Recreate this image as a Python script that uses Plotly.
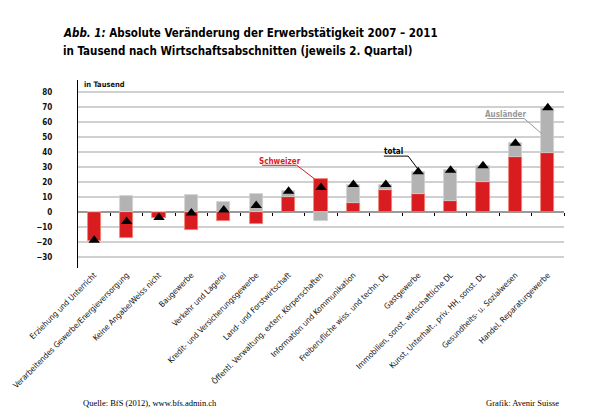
import plotly.graph_objects as go

categories = [
    "Erziehung und Unterricht",
    "Verarbeitendes Gewerbe/Energieversorgung",
    "Keine Angabe/Weiss nicht",
    "Baugewerbe",
    "Verkehr und Lagerei",
    "Kredit- und Versicherungsgewerbe",
    "Land- und Forstwirtschaft",
    "Öffentl. Verwaltung, exterr. Körperschaften",
    "Information und Kommunikation",
    "Freiberufliche wiss. und techn. DL",
    "Gastgewerbe",
    "Immobilien, sonst. wirtschaftliche DL",
    "Kunst, Unterhalt., priv. HH, sonst. DL",
    "Gesundheits- u. Sozialwesen",
    "Handel, Reparaturgewerbe",
]
schweizer = [-19, -17, -3.5, -12, -5.5, -8, 10, 22, 6, 15, 12, 7.5, 20.5, 37, 39.5]
auslaender = [0.5, 11, 0, 11.5, 7, 12.5, 4, -5.5, 12.5, 3.5, 15, 20.5, 10.5, 9, 30]
total = [-18.5, -6, -3.5, -0.5, 1.5, 4.5, 14, 16.5, 18.5, 18.5, 27, 28, 31, 46, 69.5]
y_ticks = [-30, -20, -10, 0, 10, 20, 30, 40, 50, 60, 70, 80]

RED = "#d91c1f"
GRAY = "#b3b3b3"
FONT = "DejaVu Sans Condensed, sans-serif"
idx = list(range(len(categories)))

# plot area in pixels
L, R, T, B = 72, 564, 80, 268
def px(x):
    return (x - L) / (R - L)
def py(y):
    return (B - y) / (B - T)

fig = go.Figure()
fig.add_trace(go.Bar(x=idx, y=schweizer, marker=dict(color=RED, line=dict(color="#f08070", width=0.8)),
                     width=0.41, name="Schweizer"))
fig.add_trace(go.Bar(x=idx, y=auslaender, marker=dict(color=GRAY, line=dict(color="#d0d0d0", width=0.8)),
                     width=0.41, name="Ausländer"))
fig.add_trace(go.Scatter(x=idx, y=total, mode="markers", name="total",
                         marker=dict(symbol="triangle-up", color="black", size=10)))
# invisible trace for the tick axis at zero
fig.add_trace(go.Scatter(x=[i + 0.5 for i in idx], y=[0] * len(idx), mode="markers",
                         marker=dict(opacity=0), xaxis="x2", hoverinfo="skip", showlegend=False))

fig.update_layout(
    width=600, height=420,
    margin=dict(l=L, r=600 - R, t=T, b=420 - B),
    paper_bgcolor="white", plot_bgcolor="white",
    barmode="relative", bargap=0, showlegend=False,
    font=dict(family=FONT, color="#222"),
    xaxis=dict(
        range=[-0.5, len(categories) - 0.5], tickmode="array", tickvals=idx, ticktext=categories,
        tickangle=-45, showgrid=False, zeroline=False, showline=False, ticks="",
        tickfont=dict(size=8, color="#111"),
    ),
    xaxis2=dict(
        range=[-0.5, len(categories) - 0.5], overlaying="x", anchor="free",
        position=py(212), side="bottom", showgrid=False, zeroline=False, showline=False,
        showticklabels=False, ticks="outside", ticklen=3, tickcolor="black", tickwidth=1.2,
        tickmode="array", tickvals=[i + 0.5 for i in idx],
    ),
    yaxis=dict(
        range=[-37, 88], tickmode="array", tickvals=y_ticks,
        showgrid=True, gridcolor="#d0d0d0", gridwidth=1.5,
        zeroline=True, zerolinecolor="#999999", zerolinewidth=1.5,
        showline=True, linecolor="black", linewidth=1.2,
        ticks="", ticklabelstandoff=23,
        tickfont=dict(size=8, color="#111", weight="bold"),
    ),
)

# title (two lines)
title_font = dict(size=11.5, family=FONT, color="black", weight="bold")
fig.add_annotation(text="<i>Abb. 1:</i> Absolute Veränderung der Erwerbstätigkeit 2007 – 2011",
                   xref="paper", yref="paper", x=px(55), y=py(33), xanchor="left", yanchor="middle",
                   showarrow=False, font=title_font)
fig.add_annotation(text="in Tausend nach Wirtschaftsabschnitten (jeweils 2. Quartal)",
                   xref="paper", yref="paper", x=px(55), y=py(51), xanchor="left", yanchor="middle",
                   showarrow=False, font=title_font)

fig.add_annotation(text="in Tausend", xref="paper", yref="paper", x=px(76), y=py(84),
                   xanchor="left", yanchor="middle", showarrow=False,
                   font=dict(size=7.5, color="#111", weight="bold"))

# leader labels
fig.add_annotation(text="Schweizer", xref="x", yref="y", x=5.72, y=34, showarrow=False,
                   font=dict(size=8, color=RED, weight="bold"))
fig.add_shape(type="line", xref="x", yref="y", x0=5.18, y0=31.3, x1=6.25, y1=31.3, line=dict(color=RED, width=1))
fig.add_shape(type="line", xref="x", yref="y", x0=6.25, y0=31.3, x1=6.8, y1=22.3, line=dict(color=RED, width=1))

fig.add_annotation(text="total", xref="x", yref="y", x=9.23, y=40.3, showarrow=False,
                   font=dict(size=8, color="black", weight="bold"))
fig.add_shape(type="line", xref="x", yref="y", x0=8.94, y0=37.4, x1=9.69, y1=37.4, line=dict(color="black", width=1))
fig.add_shape(type="line", xref="x", yref="y", x0=9.69, y0=37.4, x1=10.0, y1=28.5, line=dict(color="black", width=1))

fig.add_annotation(text="Ausländer", xref="x", yref="y", x=12.7, y=65.1, showarrow=False,
                   font=dict(size=8, color="#999999", weight="bold"))
fig.add_shape(type="line", xref="x", yref="y", x0=12.13, y0=62.4, x1=13.27, y1=62.4, line=dict(color="#999999", width=1))
fig.add_shape(type="line", xref="x", yref="y", x0=13.27, y0=62.4, x1=13.8, y1=52.5, line=dict(color="#999999", width=1))

# footer
fig.add_annotation(text="Quelle: BfS (2012), www.bfs.admin.ch", xref="paper", yref="paper",
                   x=px(145), y=py(403), xanchor="center", yanchor="middle", showarrow=False,
                   font=dict(size=8.5, family="Liberation Serif, serif", color="#000000"))
fig.add_annotation(text="Grafik: Avenir Suisse", xref="paper", yref="paper",
                   x=px(561), y=py(403), xanchor="right", yanchor="middle", showarrow=False,
                   font=dict(size=8.5, family="Liberation Serif, serif", color="#000000"))

fig.write_html("out.html")
